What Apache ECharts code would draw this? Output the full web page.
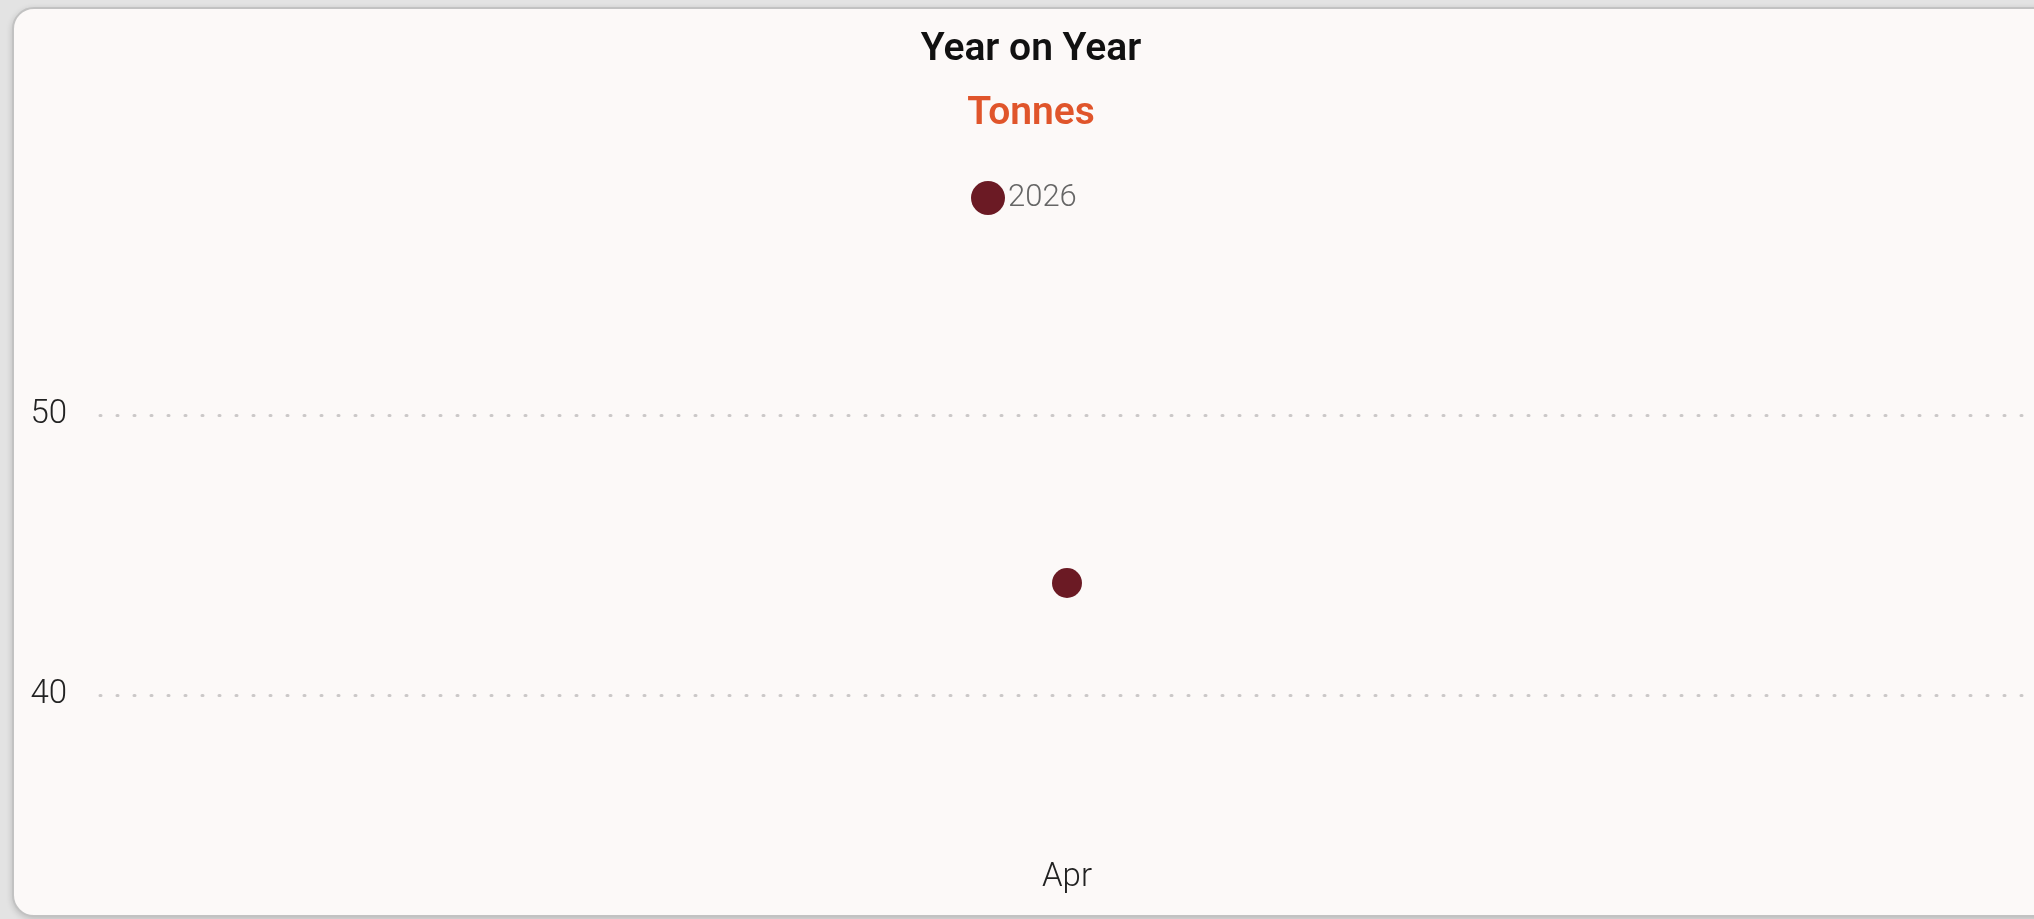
<!DOCTYPE html>
<html>
<head>
<meta charset="utf-8">
<title>Year on Year</title>
<script src="https://cdn.jsdelivr.net/npm/echarts@6/dist/echarts.min.js"></script>
<style>
    html, body { margin: 0; padding: 0; width: 2034px; height: 919px; overflow: hidden; background: #e3e3e3; }
    .card {
        position: absolute; left: 12px; top: 7px; width: 2060px; height: 906px;
        background: #fcf9f8; border: 2px solid #c2c2c2; border-radius: 22px;
        box-shadow: 0 2px 6px rgba(0,0,0,0.18);
    }
    #chart { position: absolute; left: 13px; top: 8px; width: 2036px; height: 907px; }
</style>
</head>
<body>
<div class="card"></div>
<div id="chart"></div>
<script>
// data
let months = ['Apr'];
let seriesName = '2026';
let tonnes = [44];
let yTicks = [40, 50];

let myChart = echarts.init(document.getElementById('chart'));
let font = 'Roboto, "Noto Sans", sans-serif';
let dotColor = '#6b1a24';

let option = {
    backgroundColor: 'transparent',
    textStyle: { fontFamily: font },
    title: [
        {
            text: 'Year on Year',
            left: 'center',
            top: 18,
            textStyle: { fontSize: 39, fontWeight: 600, color: '#111', fontFamily: font }
        },
        {
            text: 'Tonnes',
            left: 'center',
            top: 82,
            textStyle: { fontSize: 39, fontWeight: 600, color: '#e0552b', fontFamily: font }
        }
    ],
    legend: {
        left: 953,
        top: 168,
        icon: 'circle',
        itemWidth: 34,
        itemHeight: 34,
        itemGap: 20,
        textStyle: { fontSize: 31, fontWeight: 300, color: '#666', fontFamily: font, padding: [0, 0, 0, -2] },
        data: [seriesName]
    },
    grid: { left: 87, right: 15, top: 239, bottom: 66, containLabel: false },
    xAxis: {
        type: 'category',
        data: months,
        axisLine: { show: false },
        axisTick: { show: false },
        axisLabel: { margin: 12, fontSize: 33, fontWeight: 300, color: '#222', fontFamily: font }
    },
    yAxis: {
        type: 'value',
        min: 34.5,
        max: 56,
        axisLine: { show: false },
        axisTick: { show: false, customValues: yTicks },
        axisLabel: { customValues: yTicks, margin: 33, fontSize: 33, fontWeight: 300, color: '#222', fontFamily: font },
        splitLine: {
            show: true,
            lineStyle: { color: '#cbc8c8', width: 3, type: [1, 16], cap: 'round' }
        }
    },
    series: [
        {
            name: seriesName,
            type: 'scatter',
            data: tonnes,
            symbol: 'circle',
            symbolSize: 30,
            itemStyle: { color: dotColor, opacity: 1 }
        }
    ]
};

myChart.setOption(option, true);
</script>
</body>
</html>
